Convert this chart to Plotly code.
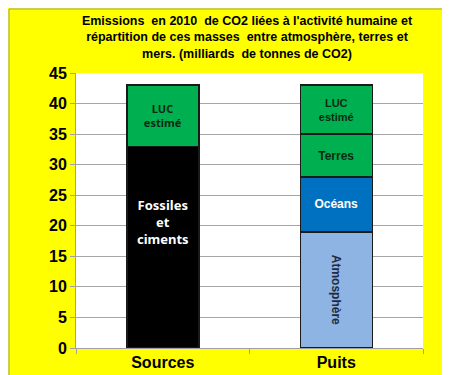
import plotly.graph_objects as go

categories = ["Sources", "Puits"]
fossiles = [33, None]
atmosphere = [None, 19]
oceans = [None, 9]
terres = [None, 7]
luc = [10, 8]
y_ticks = [0, 5, 10, 15, 20, 25, 30, 35, 40, 45]

title_lines = [
    "Emissions\u00a0 en 2010\u00a0 de CO2 liées à l'activité humaine et",
    "répartition de ces masses\u00a0 entre atmosphère, terres et",
    "mers. (milliards\u00a0 de tonnes de CO2)",
]

GREEN = "#00B050"
BLUE = "#0070C0"
LBLUE = "#8DB4E2"
outline = dict(color="#1a1a1a", width=1.5)

fig = go.Figure()

def add(name, y, color, text, tcolor, family, size, angle=0):
    fig.add_trace(go.Bar(
        x=categories, y=y, name=name,
        marker=dict(color=color, line=outline),
        text=text, textposition="inside", insidetextanchor="middle",
        textangle=angle, constraintext="none",
        textfont=dict(color=tcolor, family=family, size=size),
        hoverinfo="skip",
    ))

add("Fossiles et ciments", fossiles, "#000000",
    ["<b>Fossiles<br>et<br>ciments</b><br> <br> <br> ", ""], "white", "Noto Sans", 13)
add("Atmosphère", atmosphere, LBLUE, ["", "<b>Atmosphère</b>"], "#1F2A44",
    "Liberation Sans", 12, 90)
add("Océans", oceans, BLUE, ["", "<b>Océans</b>"], "white", "Liberation Sans", 12)
add("Terres", terres, GREEN, ["", "<b>Terres</b>"], "#0b2a12", "Liberation Sans", 12)
fig.add_trace(go.Bar(
    x=categories, y=luc, name="LUC estimé",
    marker=dict(color=GREEN, line=outline),
    text=["<b>LUC<br>estimé</b>", "<b>LUC<br>estimé</b>"],
    textposition="inside", insidetextanchor="middle", constraintext="none",
    textfont=dict(color=["#0b2a12", "#0b2a12"], family=["Noto Sans", "Liberation Sans"], size=[11, 11]),
    hoverinfo="skip",
))

L, R, T, B = 68, 35, 65, 35
W, H = 450, 375
pw, ph = W - L - R, H - T - B

tickfont = dict(family="Liberation Sans", size=16, color="black", weight="bold")

fig.update_layout(
    width=W, height=H,
    barmode="stack", bargap=0.585,
    showlegend=False,
    paper_bgcolor="#FFFF00", plot_bgcolor="white",
    margin=dict(l=L, r=R, t=T, b=B),
    font=dict(family="Liberation Sans", color="black"),
    title=dict(
        text="<b>" + "<br>".join(title_lines) + "</b>",
        x=239 / W, xref="container", xanchor="center",
        y=1 - 17 / H, yref="container", yanchor="top",
        font=dict(family="Liberation Sans", size=12.5, color="black"),
    ),
    xaxis=dict(
        showgrid=False, showline=True, linecolor="#A0A0A0", linewidth=1,
        ticks="outside", tickson="boundaries", ticklen=5, tickcolor="#A0A0A0",
        tickfont=tickfont,
    ),
    yaxis=dict(
        range=[0, 45], tickvals=y_ticks, showgrid=True, gridcolor="#A6A6A6", gridwidth=1,
        showline=True, linecolor="#A0A0A0", linewidth=1,
        ticks="outside", ticklen=5, tickcolor="#A0A0A0",
        tickfont=tickfont, zeroline=False,
    ),
    shapes=[dict(
        type="rect", xref="paper", yref="paper", layer="above",
        x0=(1 - L) / pw, x1=(W - 1.5 - L) / pw,
        y0=(H - B - (H - 1.5)) / ph, y1=(H - B - 1) / ph,
        line=dict(color="#9a9a9a", width=1), fillcolor="rgba(0,0,0,0)",
    )],
)

fig.write_html("out.html")
